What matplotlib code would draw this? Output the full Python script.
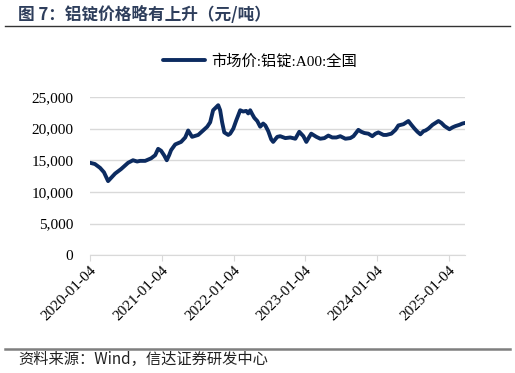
import matplotlib
matplotlib.use("Agg")
import matplotlib.pyplot as plt
import matplotlib.dates as mdates
import matplotlib.ticker as mticker
import pandas as pd

plt.rcParams['font.family'] = ['Liberation Serif', 'Noto Sans CJK SC', 'DejaVu Sans']
plt.rcParams['axes.unicode_minus'] = False

# 市场价:铝锭:A00:全国 (元/吨)
dates = ["2020-01-04", "2020-01-29", "2020-02-24", "2020-03-15", "2020-04-05", "2020-04-20",
         "2020-05-11", "2020-06-10", "2020-07-16", "2020-08-10", "2020-08-31", "2020-09-15",
         "2020-10-11", "2020-11-10", "2020-12-01", "2020-12-16", "2020-12-31", "2021-01-15",
         "2021-01-29", "2021-02-10", "2021-02-20", "2021-03-13", "2021-04-12", "2021-05-03",
         "2021-05-18", "2021-06-07", "2021-07-08", "2021-08-02", "2021-08-23", "2021-09-07",
         "2021-09-22", "2021-10-18", "2021-10-28", "2021-11-07", "2021-11-18", "2021-12-08",
         "2021-12-18", "2022-01-03", "2022-01-18", "2022-02-07", "2022-02-22", "2022-03-10",
         "2022-03-20", "2022-03-30", "2022-04-09", "2022-04-20", "2022-05-05", "2022-05-20",
         "2022-06-04", "2022-06-15", "2022-06-30", "2022-07-15", "2022-07-25", "2022-08-15",
         "2022-08-30", "2022-09-25", "2022-10-20", "2022-11-15", "2022-12-05", "2022-12-26",
         "2023-01-10", "2023-01-25", "2023-02-04", "2023-03-02", "2023-03-22", "2023-04-12",
         "2023-05-02", "2023-05-22", "2023-06-12", "2023-07-02", "2023-07-28", "2023-08-22",
         "2023-09-07", "2023-10-02", "2023-10-17", "2023-11-02", "2023-11-22", "2023-12-12",
         "2023-12-28", "2024-01-12", "2024-02-07", "2024-02-22", "2024-03-18", "2024-04-08",
         "2024-04-23", "2024-05-19", "2024-06-13", "2024-06-28", "2024-07-14", "2024-07-29",
         "2024-08-13", "2024-08-29", "2024-09-08", "2024-09-23", "2024-10-14", "2024-11-13",
         "2024-11-28", "2024-12-14", "2025-01-08", "2025-01-24", "2025-02-08", "2025-02-28",
         "2025-03-15", "2025-03-28"]
prices = [14600, 14400, 13800, 13100, 11700, 12200,
          12900, 13600, 14600, 15000, 14800, 14900,
          14900, 15300, 15800, 16800, 16500, 15800,
          15000, 15800, 16600, 17500, 17900, 18600,
          19700, 18700, 19000, 19700, 20300, 21000,
          22900, 23700, 22900, 21000, 19400, 19000,
          19200, 20000, 21300, 22900, 22700, 22800,
          22400, 22900, 22300, 21700, 21200, 20300,
          20800, 20500, 19600, 18300, 17900, 18700,
          18800, 18500, 18600, 18400, 19500, 18800,
          17900, 18700, 19200, 18700, 18400, 18500,
          18900, 18600, 18600, 18800, 18400, 18500,
          18800, 19800, 19500, 19300, 19200, 18800,
          19200, 19400, 19000, 19000, 19200, 19800,
          20500, 20700, 21200, 20600, 20000, 19500,
          19100, 19600, 19700, 20000, 20600, 21200,
          20900, 20400, 19900, 20200, 20400, 20600,
          20800, 20900]
tick_dates = ["2020-01-04", "2021-01-04", "2022-01-04", "2023-01-04", "2024-01-04", "2025-01-04"]
y_ticks = [0, 5000, 10000, 15000, 20000, 25000]

x = pd.to_datetime(dates)
line_color = '#0C2B60'

fig = plt.figure(figsize=(5.15, 3.73), dpi=100)
ax = fig.add_axes([0.1748, 0.316, 0.728, 0.424])

ax.plot(x, prices, color=line_color, lw=2.8, label='市场价:铝锭:A00:全国', solid_capstyle='round')

ax.set_ylim(0, 25000)
ax.set_xlim(pd.Timestamp(dates[0]), pd.Timestamp(dates[-1]))
ax.set_yticks(y_ticks)
ax.yaxis.set_major_formatter(mticker.StrMethodFormatter('{x:,.0f}'))
ax.set_xticks(pd.to_datetime(tick_dates))
ax.xaxis.set_major_formatter(mdates.DateFormatter('%Y-%m-%d'))
plt.setp(ax.get_xticklabels(), rotation=45, ha='right', rotation_mode='anchor')

ax.grid(axis='y', color='#D9D9D9', lw=1)
ax.set_axisbelow(True)
for s in ['top', 'right', 'left']:
    ax.spines[s].set_visible(False)
ax.spines['bottom'].set_color('#D9D9D9')
ax.tick_params(axis='y', length=0, labelsize=11, pad=12)
ax.tick_params(axis='x', length=4, color='#D9D9D9', labelsize=11, pad=2)

fig.legend(loc='center', bbox_to_anchor=(260 / 515, 1 - 61 / 373), frameon=False,
           fontsize=11, handlelength=2.8, handletextpad=0.4)

# 标题与分隔线
fig.text(18 / 515, 1 - 15 / 373, '图 7：铝锭价格略有上升（元/吨）', fontsize=12, fontweight='bold',
         color='#2E3E5C', family=['Noto Sans CJK SC'], va='center', ha='left')
fig.add_artist(plt.Line2D([5 / 515, 510 / 515], [1 - 26 / 373, 1 - 26 / 373], color='#333333', lw=1))
fig.add_artist(plt.Line2D([5 / 515, 510 / 515], [1 - 349 / 373, 1 - 349 / 373], color='#7F7F7F', lw=1.8))
fig.text(18 / 515, 1 - 359 / 373, '资料来源：Wind，信达证券研发中心', fontsize=11, style='italic',
         family=['Noto Sans CJK SC'], va='center', ha='left', color='#222222')

fig.savefig('out.png', dpi=100)
